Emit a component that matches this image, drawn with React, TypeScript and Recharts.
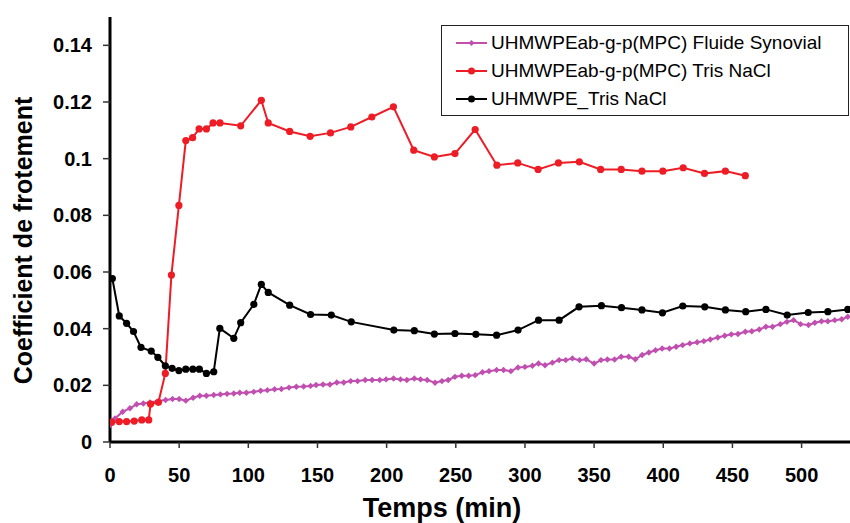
import React from 'react';
import { LineChart, Line, XAxis, YAxis } from 'recharts';

// temps (min) / coefficient de frotement
const synovialTime = [
  0, 3.6, 9.2, 14.4, 19.3, 24.1, 28.9, 35, 40.2, 45.2, 50, 54.8, 60.1, 64.9, 69.7, 75, 79.8, 84.6, 89.5,
  93.8, 98.6, 103.9, 108.9, 113.8, 119, 123.9, 129.4, 134.7, 140, 145, 149, 154, 159, 164, 169, 174, 179,
  184.5, 189.5, 195, 199.6, 205, 210, 214.6, 220, 224.5, 229.3, 235, 240, 244.5, 249.4, 254.3, 259.3, 264,
  269.3, 274, 279.5, 284.5, 289.8, 295, 300, 305.4, 309.8, 314.5, 319.8, 324.7, 329.5, 334.3, 339.5, 344.3,
  350, 355, 359.6, 364.8, 369.6, 375, 379.8, 384.7, 389.6, 394.4, 399.2, 404.5, 409.3, 414, 419.2, 424.5,
  429.3, 434, 439.4, 444.4, 449.2, 454, 459.3, 464, 469.4, 474.2, 479, 484.6, 489.4, 494.2, 499.3, 505,
  509.6, 514.4, 519, 524, 529, 533.4,
];
const synovialCoef = [
  0.006, 0.0083, 0.0107, 0.0119, 0.0133, 0.0136, 0.014, 0.0145, 0.0148, 0.0152, 0.0152, 0.0146, 0.0156,
  0.0163, 0.0163, 0.0166, 0.0168, 0.017, 0.0171, 0.0174, 0.0174, 0.0177, 0.0181, 0.0183, 0.0186, 0.0187,
  0.0192, 0.0195, 0.0196, 0.0198, 0.0201, 0.0203, 0.0203, 0.021, 0.021, 0.0215, 0.0215, 0.0219, 0.0219,
  0.0219, 0.0221, 0.0224, 0.0221, 0.0219, 0.0224, 0.0221, 0.0219, 0.0209, 0.0215, 0.0219, 0.023, 0.0234,
  0.0234, 0.0236, 0.0246, 0.025, 0.0254, 0.0254, 0.025, 0.0263, 0.0265, 0.0269, 0.0277, 0.0271, 0.028,
  0.0289, 0.0289, 0.0295, 0.0289, 0.0292, 0.0277, 0.0289, 0.0291, 0.0291, 0.0301, 0.0301, 0.0292, 0.0307,
  0.0316, 0.0324, 0.033, 0.033, 0.0336, 0.0342, 0.0348, 0.0352, 0.0356, 0.0362, 0.0369, 0.0375, 0.038,
  0.0381, 0.0389, 0.0391, 0.0397, 0.0407, 0.0407, 0.0416, 0.0424, 0.043, 0.0416, 0.0413, 0.0421, 0.0426,
  0.0426, 0.043, 0.0433, 0.0442,
];

const mpcTrisTime = [
  1.2, 6.7, 12, 17.5, 23, 28, 29.3, 35, 40, 44.4, 49.8, 54.8, 59.7, 64.4, 69.7, 74.5, 79.5, 94.5, 109.4,
  114.4, 129.9, 144.7, 159.4, 174.1, 189.3, 204.9, 219.6, 234.5, 249.4, 264, 279.7, 294.8, 309.5, 324.2,
  339.3, 354.7, 369.6, 384.6, 399.7, 414.4, 429.8, 444.9, 459.3,
];
const mpcTrisCoef = [
  0.007, 0.0072, 0.0072, 0.0074, 0.0078, 0.0078, 0.0134, 0.014, 0.0242, 0.0589, 0.0835, 0.1064, 0.1074,
  0.1105, 0.1105, 0.1126, 0.1126, 0.1116, 0.1206, 0.1126, 0.1096, 0.1079, 0.1091, 0.1112, 0.1147, 0.1183,
  0.103, 0.1006, 0.1018, 0.1103, 0.0977, 0.0985, 0.0962, 0.0985, 0.0989, 0.0962, 0.0962, 0.0956, 0.0956,
  0.0968, 0.0948, 0.0956, 0.094,
];

const peTrisTime = [
  1.7, 6.7, 12, 17, 22.4, 29.8, 34.6, 40, 44.9, 49.8, 54.8, 59.9, 64.6, 69.7, 75, 79.4, 89.5, 94.5, 104,
  109.4, 114.4, 129.9, 145, 160, 174.4, 205.2, 220, 234.5, 249.4, 264.5, 279.5, 295, 309.8, 324.7, 339.1,
  355.3, 369.8, 384.6, 399.4, 414.1, 430, 444.9, 459.6, 474.2, 489.6, 504.8, 519, 533.4,
];
const peTrisCoef = [
  0.0577, 0.0445, 0.0419, 0.039, 0.0334, 0.0321, 0.0299, 0.0269, 0.026, 0.0252, 0.0257, 0.0257, 0.0257,
  0.0242, 0.0248, 0.0401, 0.0366, 0.0421, 0.0486, 0.0556, 0.0528, 0.0483, 0.045, 0.0448, 0.0424, 0.0395,
  0.0393, 0.0381, 0.0383, 0.038, 0.0377, 0.0395, 0.043, 0.043, 0.0477, 0.0481, 0.0474, 0.0466, 0.0456,
  0.048, 0.0477, 0.0466, 0.046, 0.0468, 0.0448, 0.0457, 0.046, 0.0468,
];

const xTicks = [0, 50, 100, 150, 200, 250, 300, 350, 400, 450, 500];
const yTicks = [0, 0.02, 0.04, 0.06, 0.08, 0.1, 0.12, 0.14];

const FONT = '"Liberation Sans", Arial, sans-serif';
const PINK = '#c04fb0';
const RED = '#ee1c25';
const BLACK = '#000000';

const toPoints = (t: number[], c: number[]) => t.map((x, i) => ({ t: x, c: c[i] }));
const synovialData = toPoints(synovialTime, synovialCoef);
const mpcTrisData = toPoints(mpcTrisTime, mpcTrisCoef);
const peTrisData = toPoints(peTrisTime, peTrisCoef);

const legendItems = [
  { name: 'UHMWPEab-g-p(MPC) Fluide Synovial', color: PINK, diamond: true },
  { name: 'UHMWPEab-g-p(MPC) Tris NaCl', color: RED, diamond: false },
  { name: 'UHMWPE_Tris NaCl', color: BLACK, diamond: false },
];

const Diamond = (props: any) => {
  const { cx, cy } = props;
  if (cx == null || cy == null) return <g />;
  const s = 3.2;
  return (
    <polygon
      points={`${cx},${cy - s} ${cx + s},${cy} ${cx},${cy + s} ${cx - s},${cy}`}
      fill={PINK}
    />
  );
};

function LegendBox() {
  return (
    <div
      style={{
        position: 'absolute',
        left: 441,
        top: 25,
        border: '1px solid #222',
        background: '#fff',
        padding: '3px 0 2px 14px',
        width: 392,
        fontFamily: FONT,
        fontSize: 19,
        color: '#000',
      }}
    >
      {legendItems.map((it) => (
        <div key={it.name} style={{ display: 'flex', alignItems: 'center', height: 28 }}>
          <svg width={32} height={12} style={{ marginRight: 3 }}>
            <line x1={0} y1={6} x2={31} y2={6} stroke={it.color} strokeWidth={2} />
            {it.diamond ? (
              <polygon points="15.5,3 18.5,6 15.5,9 12.5,6" fill={it.color} />
            ) : (
              <circle cx={15.5} cy={6} r={3.5} fill={it.color} />
            )}
          </svg>
          <span style={{ whiteSpace: 'nowrap' }}>{it.name}</span>
        </div>
      ))}
    </div>
  );
}

const YTitle = (props: any) => {
  const { viewBox } = props;
  const cx = 32;
  const cy = viewBox.y + viewBox.height / 2 + 11;
  return (
    <text
      x={cx}
      y={cy}
      transform={`rotate(-90, ${cx}, ${cy})`}
      textAnchor="middle"
      fontFamily={FONT}
      fontWeight="bold"
      fontSize={25}
      fill="#000"
    >
      Coefficient de frotement
    </text>
  );
};

const XTitle = (props: any) => {
  const { viewBox } = props;
  return (
    <text
      x={442}
      y={viewBox.y + 75}
      textAnchor="middle"
      fontFamily={FONT}
      fontWeight="bold"
      fontSize={27}
      fill="#000"
    >
      Temps (min)
    </text>
  );
};

const tickStyle = { fill: '#000', fontSize: 20, fontWeight: 'bold', fontFamily: FONT };

export default function App() {
  return (
    <div style={{ position: 'absolute', left: 0, top: 0, width: 850, height: 523, background: '#fff' }}>
      <LineChart width={850} height={523} margin={{ top: 17, right: 0, left: 0, bottom: 0 }}>
        <XAxis
          type="number"
          dataKey="t"
          domain={[0, 535]}
          ticks={xTicks}
          allowDataOverflow
          height={81}
          tick={tickStyle}
          tickSize={6}
          tickMargin={20}
          tickLine={{ stroke: '#333', strokeWidth: 1.5 }}
          axisLine={{ stroke: '#000', strokeWidth: 3 }}
          label={<XTitle />}
        />
        <YAxis
          type="number"
          domain={[0, 0.15]}
          ticks={yTicks}
          allowDataOverflow
          width={110}
          tick={tickStyle}
          tickSize={7}
          tickMargin={11}
          tickLine={{ stroke: '#333', strokeWidth: 1.5 }}
          axisLine={{ stroke: '#000', strokeWidth: 3 }}
          label={<YTitle />}
        />
        <Line
          data={synovialData}
          dataKey="c"
          name={legendItems[0].name}
          type="linear"
          stroke={PINK}
          strokeWidth={2}
          dot={Diamond}
          activeDot={false}
          isAnimationActive={false}
        />
        <Line
          data={mpcTrisData}
          dataKey="c"
          name={legendItems[1].name}
          type="linear"
          stroke={RED}
          strokeWidth={2}
          dot={{ r: 3.6, fill: RED, stroke: 'none' }}
          activeDot={false}
          isAnimationActive={false}
        />
        <Line
          data={peTrisData}
          dataKey="c"
          name={legendItems[2].name}
          type="linear"
          stroke={BLACK}
          strokeWidth={2}
          dot={{ r: 3.6, fill: BLACK, stroke: 'none' }}
          activeDot={false}
          isAnimationActive={false}
        />
      </LineChart>
      <LegendBox />
    </div>
  );
}
